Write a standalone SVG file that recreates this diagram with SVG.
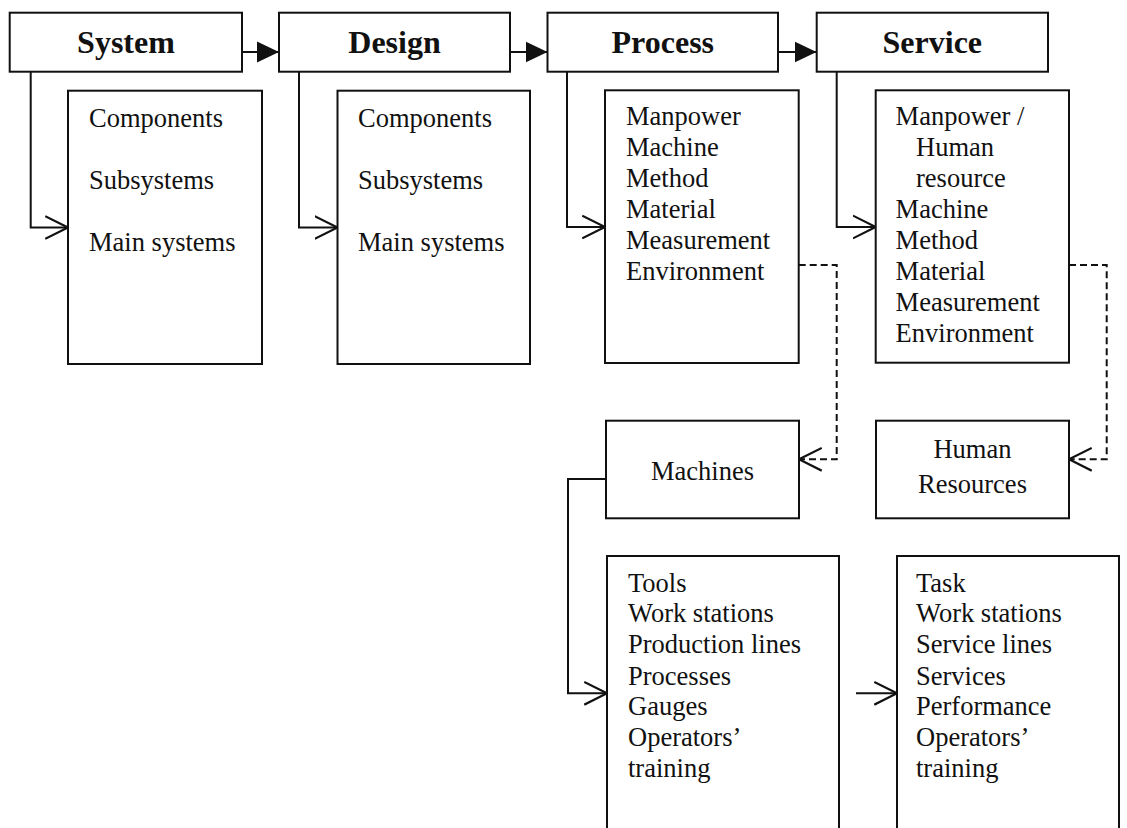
<svg xmlns="http://www.w3.org/2000/svg" width="1127" height="828" viewBox="0 0 1127 828">
<style>
.box{fill:#fff;stroke:#111;stroke-width:2}
.hd{font-family:"Liberation Serif","Times New Roman",serif;font-size:32px;font-weight:bold;fill:#111;text-anchor:middle}
.tx{font-family:"Liberation Serif","Times New Roman",serif;font-size:26.5px;fill:#111}
.ct{text-anchor:middle}
.ln{fill:none;stroke:#111;stroke-width:2}
.ds{stroke-dasharray:7 4}
</style>
<defs>
<marker id="tri" markerUnits="userSpaceOnUse" markerWidth="22" markerHeight="22" refX="21" refY="10" orient="auto" viewBox="0 0 21 20">
<path d="M0,0 L21,10 L0,20 z" fill="#111"/>
</marker>
<marker id="open" markerUnits="userSpaceOnUse" markerWidth="26" markerHeight="26" refX="21" refY="11" orient="auto" viewBox="0 0 24 22">
<path d="M0,0.5 L21,11 L0,21.5" fill="none" stroke="#111" stroke-width="2" stroke-dasharray="none"/>
</marker>
</defs>
<rect width="1127" height="828" fill="#fff"/>

<g id="connectors">
<line class="ln" x1="242" y1="52" x2="279" y2="52" marker-end="url(#tri)"/>
<line class="ln" x1="510" y1="52" x2="547.5" y2="52" marker-end="url(#tri)"/>
<line class="ln" x1="778" y1="52" x2="816.5" y2="52" marker-end="url(#tri)"/>
<polyline class="ln" points="30.7,72 30.7,227.5 68,227.5" marker-end="url(#open)"/>
<polyline class="ln" points="299,72 299,227.5 337.5,227.5" marker-end="url(#open)"/>
<polyline class="ln" points="567,72 567,227 605,227" marker-end="url(#open)"/>
<polyline class="ln" points="836.7,72 836.7,227 875.7,227" marker-end="url(#open)"/>
<polyline class="ln ds" points="798.7,265 836.7,265 836.7,459.3 799,459.3" marker-end="url(#open)"/>
<polyline class="ln ds" points="1069,265 1106.7,265 1106.7,459.3 1069,459.3" marker-end="url(#open)"/>
<polyline class="ln" points="606,479 568,479 568,693.3 607,693.3" marker-end="url(#open)"/>
<line class="ln" x1="856" y1="693.3" x2="897" y2="693.3" marker-end="url(#open)"/>
</g>

<g id="system">
<rect class="box" x="9.7" y="12.7" width="232.3" height="59"/>
<text class="hd" x="126" y="53">System</text>
</g>
<g id="design">
<rect class="box" x="279" y="12.7" width="231" height="59"/>
<text class="hd" x="394.5" y="53">Design</text>
</g>
<g id="process">
<rect class="box" x="547.5" y="12.7" width="230.5" height="59"/>
<text class="hd" x="662.8" y="53">Process</text>
</g>
<g id="service">
<rect class="box" x="816.7" y="12.7" width="231.3" height="59"/>
<text class="hd" x="932.3" y="53">Service</text>
</g>

<g id="system-items">
<rect class="box" x="68" y="90.7" width="194" height="273.3"/>
<text class="tx" x="89" y="126.7">Components</text>
<text class="tx" x="89" y="188.5">Subsystems</text>
<text class="tx" x="89" y="251">Main systems</text>
</g>
<g id="design-items">
<rect class="box" x="337.5" y="90.7" width="192.5" height="273.3"/>
<text class="tx" x="358" y="126.7">Components</text>
<text class="tx" x="358" y="188.5">Subsystems</text>
<text class="tx" x="358" y="251">Main systems</text>
</g>
<g id="process-items">
<rect class="box" x="605" y="90.3" width="193.7" height="272.7"/>
<text class="tx" x="626" y="125">Manpower</text>
<text class="tx" x="626" y="156">Machine</text>
<text class="tx" x="626" y="187">Method</text>
<text class="tx" x="626" y="218">Material</text>
<text class="tx" x="626" y="249">Measurement</text>
<text class="tx" x="626" y="280">Environment</text>
</g>
<g id="service-items">
<rect class="box" x="875.7" y="90.3" width="193.3" height="272.4"/>
<text class="tx" x="895.6" y="125">Manpower /</text>
<text class="tx" x="916" y="156">Human</text>
<text class="tx" x="916" y="187">resource</text>
<text class="tx" x="895.6" y="217.5">Machine</text>
<text class="tx" x="895.6" y="248.5">Method</text>
<text class="tx" x="895.6" y="279.5">Material</text>
<text class="tx" x="895.6" y="310.5">Measurement</text>
<text class="tx" x="895.6" y="342">Environment</text>
</g>

<g id="machines">
<rect class="box" x="606" y="420.7" width="193" height="97.6"/>
<text class="tx ct" x="702.5" y="480">Machines</text>
</g>
<g id="human-resources">
<rect class="box" x="876" y="420.7" width="193" height="97.6"/>
<text class="tx ct" x="972.5" y="458.3">Human</text>
<text class="tx ct" x="972.5" y="492.7">Resources</text>
</g>

<g id="machine-items">
<rect class="box" x="607" y="556" width="232" height="290"/>
<text class="tx" x="628" y="591.7">Tools</text>
<text class="tx" x="628" y="622">Work stations</text>
<text class="tx" x="628" y="653">Production lines</text>
<text class="tx" x="628" y="684.5">Processes</text>
<text class="tx" x="628" y="715">Gauges</text>
<text class="tx" x="628" y="745.5">Operators’</text>
<text class="tx" x="628" y="776.7">training</text>
</g>
<g id="service-line-items">
<rect class="box" x="897" y="556" width="222" height="290"/>
<text class="tx" x="916" y="591.7">Task</text>
<text class="tx" x="916" y="622">Work stations</text>
<text class="tx" x="916" y="653">Service lines</text>
<text class="tx" x="916" y="684.5">Services</text>
<text class="tx" x="916" y="715">Performance</text>
<text class="tx" x="916" y="745.5">Operators’</text>
<text class="tx" x="916" y="776.7">training</text>
</g>
</svg>
